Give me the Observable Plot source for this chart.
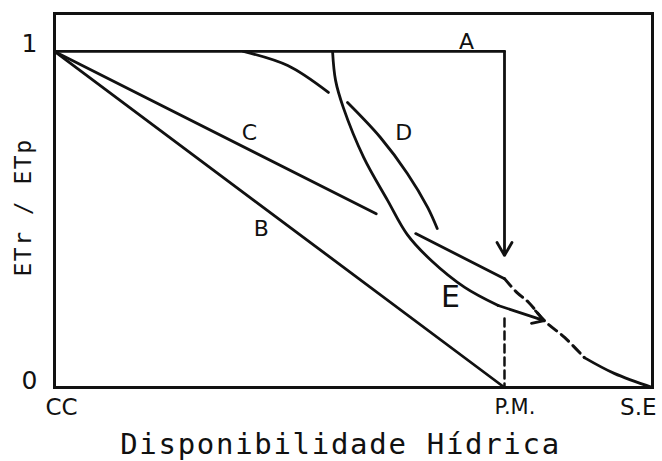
<!DOCTYPE html>
<html><head><meta charset="utf-8">
<script src="https://cdn.jsdelivr.net/npm/d3@7"></script>
<script src="https://cdn.jsdelivr.net/npm/@observablehq/plot@0.6"></script>
<style>body{margin:0;background:#fff} svg{display:block}</style>
</head><body><div id="chart"></div>
<script>
// Axis ticks and titles
const xTicks = [0, 0.7525, 1];
const xTickLabels = ["CC", "P.M.", "S.E"];
const yTicks = [0, 1];
const yTickLabels = ["0", "1"];
const xTitle = "Disponibilidade Hídrica";
const yTitle = "ETr / ETp";

// Curve A: plateau at 1, then vertical drop (arrow) at P.M.
const aX = [0, 0.7525];
const aY = [1, 1];
const aArrowX = [0.7525, 0.7525];
const aArrowY = [1, 0.393];
// Curve B: straight line CC -> P.M.
const bX = [0, 0.7525];
const bY = [1, 0];
// Curve C: straight line (broken where E crosses), dashed beyond P.M., tail to S.E
const cX = [0, 0.538, null, 0.604, 0.7525];
const cY = [1, 0.517, null, 0.458, 0.324];
const cDashX = [0.7525, 0.773, 0.793, 0.819, 0.853, 0.886];
const cDashY = [0.324, 0.283, 0.253, 0.199, 0.149, 0.089];
const cTailX = [0.886, 0.936, 1];
const cTailY = [0.089, 0.042, 0];
// Curve D (broken where E crosses)
const dX = [0.316, 0.390, 0.458, null, 0.490, 0.545, 0.590, 0.624, 0.640];
const dY = [1, 0.958, 0.878, null, 0.848, 0.744, 0.637, 0.536, 0.473];
// Curve E, ending with an arrow
const eX = [0.465, 0.470, 0.483, 0.517, 0.557, 0.590, 0.630, 0.686, 0.742];
const eY = [1, 0.914, 0.833, 0.685, 0.557, 0.455, 0.378, 0.298, 0.244];
const eArrowX = [0.742, 0.819];
const eArrowY = [0.244, 0.199];
// Dashed drop at P.M.
const pmDropX = [0.7525, 0.7525];
const pmDropY = [0.205, 0];
// Curve labels
const curveLabels = ["A", "B", "C", "D", "E"];
const labelX = [0.689, 0.346, 0.326, 0.584, 0.662];
const labelY = [1.027, 0.473, 0.759, 0.759, 0.268];

const pts = (xs, ys) => xs.map((x, i) => ({x, y: ys[i]}));
const seg = (xs, ys) => [{x1: xs[0], y1: ys[0], x2: xs[1], y2: ys[1]}];
const sw = 2.8;
const ink = "#111";

const chart = Plot.plot({
  width: 662, height: 461,
  marginLeft: 54, marginRight: 10, marginTop: 13, marginBottom: 74,
  x: {domain: [0, 1], axis: null},
  y: {domain: [0, 1.113], axis: null},
  style: {fontFamily: "DejaVu Sans", background: "white", overflow: "visible"},
  marks: [
    Plot.frame({stroke: ink, strokeWidth: 3}),
    Plot.line(pts(aX, aY), {x: "x", y: "y", stroke: ink, strokeWidth: sw}),
    Plot.arrow(seg(aArrowX, aArrowY), {x1: "x1", y1: "y1", x2: "x2", y2: "y2", stroke: ink, strokeWidth: sw, headLength: 8}),
    Plot.line(pts(bX, bY), {x: "x", y: "y", stroke: ink, strokeWidth: sw}),
    Plot.line(pts(cX, cY), {x: "x", y: "y", stroke: ink, strokeWidth: sw}),
    Plot.line(pts(cDashX, cDashY), {x: "x", y: "y", stroke: ink, strokeWidth: 3, curve: "catmull-rom", strokeDasharray: "10,6"}),
    Plot.line(pts(cTailX, cTailY), {x: "x", y: "y", stroke: ink, strokeWidth: sw, curve: "catmull-rom"}),
    Plot.line(pts(dX, dY), {x: "x", y: "y", stroke: ink, strokeWidth: sw, curve: "catmull-rom"}),
    Plot.line(pts(eX, eY), {x: "x", y: "y", stroke: ink, strokeWidth: sw, curve: "catmull-rom"}),
    Plot.arrow(seg(eArrowX, eArrowY), {x1: "x1", y1: "y1", x2: "x2", y2: "y2", stroke: ink, strokeWidth: sw, headLength: 7}),
    Plot.line(pts(pmDropX, pmDropY), {x: "x", y: "y", stroke: ink, strokeWidth: 2.5, strokeDasharray: "8,5"}),
    Plot.text(curveLabels, {x: (d, i) => labelX[i], y: (d, i) => labelY[i], text: d => d,
      fontSize: d => d === "E" ? 30 : 22, fill: ink}),
    // y tick labels
    Plot.text(yTickLabels, {y: (d, i) => yTicks[i], text: d => d, frameAnchor: "left", textAnchor: "middle", lineAnchor: "middle",
      dx: -25, dy: -7, fontSize: 25, fill: ink}),
    // x tick labels
    Plot.text([xTickLabels[0]], {x: () => xTicks[0], text: d => d, frameAnchor: "bottom", textAnchor: "start", lineAnchor: "middle", dx: -9, dy: 20, fontSize: 23, fill: ink}),
    Plot.text([xTickLabels[1]], {x: () => xTicks[1], text: d => d, frameAnchor: "bottom", textAnchor: "start", lineAnchor: "middle", dx: -10, dy: 20, fontSize: 21, fill: ink}),
    Plot.text([xTickLabels[2]], {x: () => xTicks[2], text: d => d, frameAnchor: "bottom", textAnchor: "end", lineAnchor: "middle", dx: 4, dy: 20, fontSize: 23, fill: ink}),
    // titles
    Plot.text([xTitle], {text: d => d, frameAnchor: "bottom", textAnchor: "middle", lineAnchor: "middle", dx: -13, dy: 57, fontSize: 29, fontFamily: "DejaVu Sans Mono", fill: ink}),
    Plot.text([yTitle], {text: d => d, frameAnchor: "left", textAnchor: "middle", lineAnchor: "middle", rotate: -90, dx: -31, dy: 7, fontSize: 23, fontFamily: "DejaVu Sans Mono", fill: ink})
  ]
});
// letter spacing for the typewritten titles
d3.select(chart).selectAll("text").each(function() {
  const t = this.textContent;
  if (t === xTitle) this.setAttribute("letter-spacing", "1.7");
  if (t === yTitle) this.setAttribute("letter-spacing", "1.5");
});
document.getElementById("chart").append(chart);
</script>
</body></html>
